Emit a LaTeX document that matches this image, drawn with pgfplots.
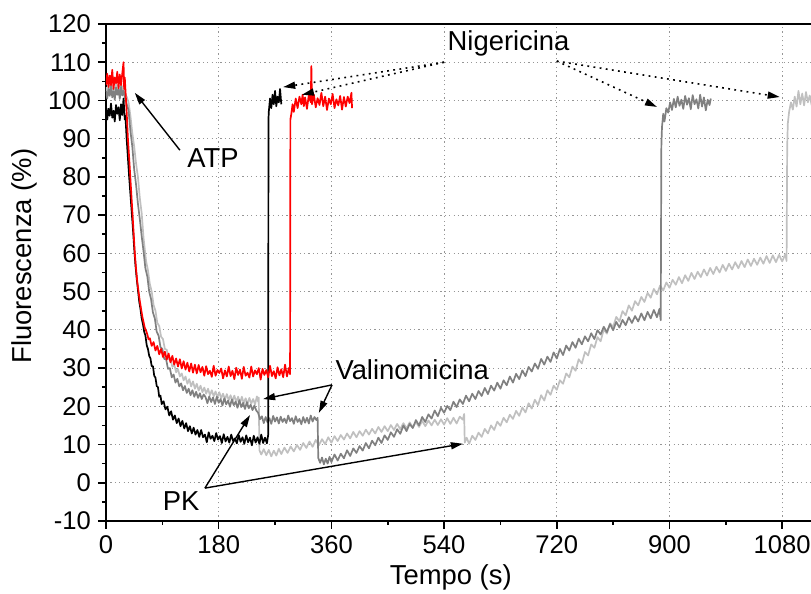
\documentclass[border=0pt]{standalone}
\usepackage{fontspec}
\setmainfont{Liberation Sans}
\usepackage{pgfplots}
\usepackage{pgfplotstable}
\pgfplotsset{compat=1.18}
\usetikzlibrary{arrows.meta}
\definecolor{dgray}{RGB}{128,128,128}
\definecolor{lgray}{RGB}{192,192,192}
\definecolor{gridc}{RGB}{150,150,150}

\pgfplotstableread[row sep=\\]{x y\\
0 98.5\\ 2 95\\ 4 97.8\\ 6 96\\ 8 99.2\\ 10 95.5\\ 12 97.3\\ 14 94.5\\ 16 98.8\\ 18 96.5\\ 20 98.2\\ 22 94.8\\ 24 99\\ 26 96.2\\ 28 100.5\\ 30 95\\
31 96\\ 33 90\\ 35 85\\ 37 80\\ 39 75.5\\ 41 71\\ 43 66.5\\ 45 61.5\\ 47 57\\ 49 53.5\\ 51 50.5\\ 53 47.5\\ 55 45.5\\ 57 43\\ 59 41.5\\ 61 39.5\\ 63 38.5\\ 65 36\\ 67 35\\ 69 33.2\\ 71 32.5\\ 73 30.5\\ 75 30.5\\ 77 28\\ 79 27.5\\ 81 25.3\\ 83 25\\ 85 22.5\\ 87 22.8\\ 89 20.6\\ 92 21.3\\ 95 19.2\\ 98 19.9\\ 101 17.6\\ 104 18.7\\ 107 16.5\\ 110 17.6\\ 113 15.6\\ 116 16.8\\ 119 14.8\\ 122 16.2\\ 125 14.2\\ 128 15.6\\ 131 13.5\\ 134 14.8\\ 137 12.9\\ 140 14.4\\ 143 12.6\\ 146 13.8\\ 149 12\\ 152 13.8\\ 155 11.9\\
158 12.6\\ 161 10.6\\ 164 13.2\\ 167 11.5\\ 170 12.3\\ 173 10.9\\ 176 13\\ 179 11.3\\ 182 12.2\\ 185 10.4\\ 188 12.7\\ 191 10.8\\ 194 12\\ 197 10.5\\ 200 12.6\\ 203 10.9\\ 206 11.6\\ 209 10.3\\ 212 12.5\\ 215 10.7\\ 218 11.9\\ 221 10.2\\ 224 12.4\\ 227 10.6\\ 230 11.8\\ 233 9.8\\ 236 12.3\\ 239 10.5\\ 242 11.9\\ 245 10.2\\ 248 12.6\\ 251 10.4\\ 254 11.8\\ 257 10.3\\ 259 12.5\\
259.5 95\\ 260 97\\ 262 100.5\\ 264 98\\ 266 101.5\\ 268 99\\ 270 102.5\\ 272 98.5\\ 274 101\\ 276 99.5\\ 278 103\\ 280 99\\
}\blackdata

\pgfplotstableread[row sep=\\]{x y\\
0 104\\ 2 107\\ 4 103.5\\ 6 106.5\\ 8 104\\ 10 108\\ 12 103\\ 14 106\\ 16 104.5\\ 18 107.5\\ 20 103.2\\ 22 106.8\\ 24 104\\ 26 107\\ 28 110\\ 29 103\\ 30 106\\
31 103\\ 32 100\\ 33 97\\ 35 90\\ 37 85\\ 39 79.5\\ 41 74\\ 43 68.5\\ 45 63\\ 46 60\\ 48 56\\ 50 52.5\\ 52 50\\ 54 47.5\\ 56 45.5\\ 58 43.5\\ 60 42\\ 62 40.5\\ 64 39.8\\ 66 38.8\\ 68 37.5\\ 70 37.8\\ 73 35.8\\ 76 36.8\\ 79 34.6\\ 82 35.8\\ 85 33.6\\ 88 35\\ 91 32.9\\ 94 34.3\\ 97 32.2\\ 100 33.8\\ 103 31.5\\ 106 33.2\\ 109 30.9\\ 112 32.5\\ 115 30.4\\ 118 32.3\\ 121 29.9\\ 124 31.8\\ 127 29.6\\ 130 31.4\\ 133 29.1\\ 136 31.2\\ 139 28.8\\ 142 30.9\\ 145 28.6\\ 148 30.8\\ 151 28.9\\ 154 30.3\\ 157 28\\
160 30.5\\ 163 28.4\\ 166 29.3\\ 169 27.7\\ 172 30.6\\ 175 28\\ 178 29.5\\ 181 28.7\\ 184 29.9\\ 187 27.3\\ 190 29.4\\ 193 27.8\\ 196 30.4\\ 199 27.9\\ 202 29.3\\ 205 27.1\\ 208 30.1\\ 211 28.2\\ 214 29.6\\ 217 27.2\\ 220 30.3\\ 223 28\\ 226 28.8\\ 229 27.5\\ 232 30.4\\ 235 27.8\\ 238 29.4\\ 241 28.4\\ 244 30\\ 247 27\\ 250 29.8\\ 253 28.2\\ 256 29.5\\ 259 27.6\\ 262 30.6\\ 265 27.9\\ 268 29.2\\ 271 27.3\\ 274 30.2\\ 277 28.1\\ 280 29.7\\ 283 27.6\\ 286 30.9\\ 289 27.8\\ 292 30\\ 294 28.4\\
294.5 95\\ 296 96.5\\ 298 99\\ 300 97\\ 303 100.5\\ 306 98\\ 309 101\\ 312 99\\ 314 101.5\\ 316 98.5\\ 318 100.8\\ 321 97.8\\ 324 101.5\\ 327 99.5\\ 328 109\\ 329 99\\ 332 101.5\\ 335 98.2\\ 338 100.6\\ 341 98.8\\ 344 102\\ 347 98.5\\ 350 101\\ 353 97.5\\ 356 100.5\\ 359 99\\ 362 101.7\\ 365 98\\ 368 100.3\\ 371 98.7\\ 374 101.2\\ 377 97.6\\ 380 100.9\\ 383 98.4\\ 386 101\\ 389 99.3\\ 392 102\\ 393 98\\
}\reddata

\pgfplotstableread[row sep=\\]{x y\\
0 102.5\\ 2 100.5\\ 4 103\\ 6 101.2\\ 8 103.8\\ 10 100.8\\ 12 102.4\\ 14 100.2\\ 16 103.4\\ 18 101.5\\ 20 102.9\\ 22 100.4\\ 24 103.6\\ 26 101.3\\ 28 102.6\\ 30 100.9\\
33 99\\ 36 97.5\\ 39 92\\ 42 88\\ 45 82\\ 48 78\\ 51 73\\ 54 69\\ 57 64.5\\ 60 60.5\\ 63 56\\ 66 54\\ 69 50\\ 72 48\\ 75 44.5\\ 78 43\\ 81 39.5\\ 84 38.5\\ 87 35.5\\ 90 35\\ 93 32.4\\ 96 32.3\\ 99 29.8\\ 102 30\\ 105 27.6\\ 108 28.3\\ 111 26.2\\ 114 27.2\\ 117 25.2\\ 120 26\\ 123 24.2\\ 126 25.3\\ 129 23.5\\ 132 24.6\\ 135 22.9\\ 138 24.2\\ 141 22.5\\ 144 23.8\\ 147 22.2\\ 150 23.4\\ 153 21.9\\ 156 23.1\\
159 22.4\\ 162 20.8\\ 165 22.6\\ 168 21.1\\ 171 22.3\\ 174 20.6\\ 177 22.5\\ 180 20.9\\ 183 21.9\\ 186 20.2\\ 189 22.1\\ 192 20.5\\ 195 21.5\\ 198 19.9\\ 201 21.8\\ 204 20.3\\ 207 21.2\\ 210 19.6\\ 213 21.6\\ 216 19.8\\ 219 20.9\\ 222 19.3\\ 225 21.1\\ 228 19.5\\ 231 20.4\\ 234 19\\ 237 20.2\\ 240 18.9\\ 243 18.3\\ 246 16.6\\ 249 17.4\\ 252 15.6\\ 255 17.2\\ 258 15.8\\ 261 16.9\\ 264 15.4\\ 267 17.5\\ 270 16\\ 273 17.1\\ 276 15.5\\ 279 17.3\\ 282 15.9\\ 285 16.8\\ 288 15.6\\ 291 17.6\\ 294 16.1\\ 297 16.9\\ 300 15.4\\ 303 17.4\\ 306 15.9\\ 309 16.7\\ 312 15.3\\ 315 17.2\\ 318 15.7\\ 321 17\\ 324 15.5\\ 327 17.6\\ 330 16\\ 333 17.2\\ 336 16.4\\ 338 17\\
339 6.5\\ 342 5.2\\ 345 6.6\\ 348 4.8\\ 351 6.3\\ 354 5\\ 357 6.8\\ 360 5.4\\ 365 7.4\\ 370 5.8\\ 375 7.6\\ 380 6.4\\ 385 8.5\\ 390 7\\ 395 9\\ 400 7.8\\ 405 9.6\\ 410 8.4\\ 415 10.4\\ 420 9\\ 425 11\\ 430 9.8\\ 435 11.8\\ 440 10.4\\ 445 12.4\\ 450 11.2\\ 455 13.2\\ 460 12\\ 465 14\\ 470 12.8\\ 475 15\\ 480 13.5\\ 485 15.4\\ 490 14.3\\ 495 16.4\\ 500 15\\ 505 17.2\\ 510 15.9\\ 515 17.9\\ 520 16.8\\ 525 18.9\\ 530 17.4\\ 535 19.6\\ 540 18.3\\ 545 20.1\\ 550 19\\ 555 21.2\\ 560 19.8\\ 565 21.8\\ 570 20.6\\ 575 22.8\\ 580 21.3\\ 585 23.3\\ 590 21.9\\ 595 24\\ 600 22.7\\ 605 24.8\\ 610 23.2\\ 615 25.4\\ 620 24.1\\ 625 26.2\\ 630 24.6\\ 635 26.8\\ 640 25.5\\ 645 27.8\\ 650 26.2\\ 655 28.5\\ 660 27.1\\ 665 29.4\\ 670 27.9\\ 675 30.3\\ 680 29.1\\ 685 31.2\\ 690 29.8\\ 695 32.4\\ 700 30.9\\ 705 33\\ 710 31.6\\ 715 34.1\\ 720 32.5\\ 725 35\\ 730 33.4\\ 735 35.9\\ 740 34.6\\ 745 36.8\\ 750 35.3\\ 755 37.7\\ 760 36.2\\ 765 38.3\\ 770 37\\ 775 39.1\\ 780 37.6\\ 785 39.9\\ 790 38.8\\ 795 40.8\\ 800 39.4\\ 805 41.5\\ 810 39.9\\ 815 42.1\\ 820 40.6\\ 825 42.6\\ 830 41.2\\ 835 43.3\\ 840 41.8\\ 845 43.6\\ 850 42.2\\ 855 44.3\\ 860 42.5\\ 865 44.7\\ 870 43\\ 875 45.2\\ 880 43.3\\ 884 45.5\\ 886 42.5\\
887 88\\ 888 93\\ 890 96.5\\ 892 94.5\\ 895 98\\ 898 96.8\\ 901 99.5\\ 904 97.5\\ 907 100.4\\ 910 98.2\\ 913 101\\ 916 98.6\\ 919 100.2\\ 922 97.8\\ 925 101.2\\ 928 98.9\\ 931 100.6\\ 934 97.7\\ 937 101.4\\ 940 99\\ 943 100.3\\ 946 97.9\\ 949 101.5\\ 952 98.4\\ 955 100.8\\ 958 97.4\\ 961 100.2\\ 964 98.8\\ 966 100.5\\
}\dgraydata

\pgfplotstableread[row sep=\\]{x y\\
0 103.5\\ 2 101.6\\ 4 104.2\\ 6 102\\ 8 104.8\\ 10 101.9\\ 12 103.3\\ 14 101.1\\ 16 104.4\\ 18 102.4\\ 20 103.9\\ 22 101.3\\ 24 104.6\\ 26 102.2\\ 28 103.8\\ 30 101.8\\
33 101\\ 36 99.5\\ 39 96\\ 42 91.5\\ 45 88\\ 48 83.5\\ 51 80\\ 54 74.5\\ 57 70.5\\ 60 64\\ 62 61\\ 64 58\\ 67 55.6\\ 70 52\\ 73 50\\ 76 46.5\\ 79 45\\ 82 41.8\\ 85 41\\ 88 38.2\\ 91 37.6\\ 94 35\\ 97 34.8\\ 100 32.3\\ 103 32.5\\ 106 30.3\\ 109 30.9\\ 112 28.9\\ 115 29.7\\ 118 27.8\\ 121 28.6\\ 124 26.8\\ 127 27.8\\ 130 25.9\\ 133 27.1\\ 136 25.2\\ 139 26.5\\ 142 24.6\\ 145 25.9\\ 148 24.1\\ 151 25.4\\ 154 23.7\\ 157 24.9\\ 160 23.3\\ 163 24.6\\ 166 22.9\\ 169 24.2\\ 172 22.6\\ 175 23.9\\ 178 22.3\\ 181 23.7\\ 184 22.1\\ 187 23.3\\ 190 21.8\\ 193 23.2\\ 196 21.6\\ 199 22.9\\ 202 21.3\\ 205 22.8\\ 208 21.1\\ 211 22.5\\ 214 20.9\\ 217 22.5\\ 220 20.8\\ 223 22.1\\ 226 20.6\\ 229 22.2\\ 232 20.7\\ 235 21.9\\ 238 20.5\\ 241 22.6\\ 243 21.2\\ 244 22.3\\
245 8.5\\ 248 7.4\\ 252 8.8\\ 256 7.2\\ 260 8.6\\ 264 6.9\\ 268 8.4\\ 272 7.1\\ 276 8.9\\ 280 7.5\\ 285 9.2\\ 290 7.8\\ 295 9.5\\ 300 8.2\\ 305 9.9\\ 310 8.6\\ 315 10.4\\ 320 9.1\\ 325 10.8\\ 330 9.4\\ 335 11.2\\ 340 9.8\\ 345 11.4\\ 350 10.1\\ 355 11.9\\ 360 10.5\\ 365 12.2\\ 370 10.9\\ 375 12.5\\ 380 11.3\\ 385 12.9\\ 390 11.6\\ 395 13.3\\ 400 11.9\\ 405 13.5\\ 410 12.3\\ 415 13.9\\ 420 12.6\\ 425 14.1\\ 430 12.9\\ 435 14.6\\ 440 13.3\\ 445 14.8\\ 450 13.5\\ 455 15.1\\ 460 13.8\\ 465 15.4\\ 470 14\\ 475 15.6\\ 480 14.2\\ 485 15.8\\ 490 14.5\\ 495 15.9\\ 500 14.6\\ 505 16.2\\ 510 14.8\\ 515 16.3\\ 520 15\\ 525 16.5\\ 530 15.1\\ 535 16.6\\ 540 15.2\\ 545 16.9\\ 550 15.4\\ 555 17\\ 560 15.5\\ 565 17.3\\ 570 16.5\\ 572 18\\
573 10.5\\ 576 11.8\\ 580 10.2\\ 585 12.3\\ 590 11.2\\ 595 13.1\\ 600 12\\ 605 14.1\\ 610 12.9\\ 615 15\\ 620 13.8\\ 625 16\\ 630 14.9\\ 635 17\\ 640 15.8\\ 645 17.8\\ 650 16.7\\ 655 18.8\\ 660 17.5\\ 665 19.7\\ 670 18.4\\ 675 20.8\\ 680 19.4\\ 685 21.7\\ 690 20.3\\ 695 22.9\\ 700 21.5\\ 705 24.2\\ 710 23\\ 715 25.4\\ 720 24.3\\ 725 26.8\\ 730 25.9\\ 735 28.6\\ 740 27.6\\ 745 30.4\\ 750 29.3\\ 755 32.3\\ 760 31.2\\ 765 34.2\\ 770 33.3\\ 775 36.2\\ 780 35.3\\ 785 38.1\\ 790 37\\ 795 40.1\\ 800 39\\ 805 41.7\\ 810 40.8\\ 815 43.4\\ 820 42.2\\ 825 44.9\\ 830 43.8\\ 835 46.4\\ 840 45\\ 845 47.5\\ 850 46.4\\ 855 48.6\\ 860 47.3\\ 865 49.7\\ 870 48.4\\ 875 50.7\\ 880 49.3\\ 885 51.6\\ 890 50.3\\ 895 52.4\\ 900 51\\ 905 53.1\\ 910 51.8\\ 915 53.8\\ 920 52.2\\ 925 54.3\\ 930 52.8\\ 935 54.9\\ 940 53.3\\ 945 55.2\\ 950 53.8\\ 955 55.8\\ 960 54.2\\ 965 56.2\\ 970 54.6\\ 975 56.5\\ 980 55\\ 985 57\\ 990 55.4\\ 995 57.3\\ 1000 55.8\\ 1005 57.7\\ 1010 56.1\\ 1015 58\\ 1020 56.4\\ 1025 58.4\\ 1030 56.7\\ 1035 58.6\\ 1040 57\\ 1045 58.9\\ 1050 57.3\\ 1055 59.3\\ 1060 57.5\\ 1065 59.5\\ 1070 57.7\\ 1075 59.6\\ 1080 57.9\\ 1085 59.8\\ 1087 58\\
1088 88\\ 1089 94\\ 1091 97\\ 1094 99.5\\ 1097 97.6\\ 1100 101\\ 1103 98.4\\ 1106 102.5\\ 1109 99\\ 1112 101.8\\ 1115 98.7\\ 1118 102.2\\ 1121 99.5\\ 1124 101.3\\ 1127 98.8\\ 1130 101\\
}\lgraydata

\begin{document}
\begin{tikzpicture}
\begin{axis}[
  scale only axis,
  width=352.5pt, height=248.5pt,
  xmin=0, xmax=1126, ymin=-10, ymax=120,
  axis y line*=left,
  xtick={0,180,...,1080},
  ytick={-10,0,...,120},
  minor x tick num=1,
  minor y tick num=1,
  xtick pos=left, ytick pos=left,
  tick align=outside,
  major tick length=4pt, minor tick length=2pt,
  every tick/.style={black, line width=0.8pt},
  axis line style={line width=1pt},
  grid=major,
  major grid style={gridc, line width=0.5pt, dash pattern=on 0.6pt off 1.6pt},
  /pgf/number format/assume math mode=true,
  /pgf/number format/1000 sep={},
  tick label style={font=\fontsize{12.8}{14}\selectfont},
  label style={font=\fontsize{13.7}{16}\selectfont},
  xlabel={Tempo (s)},
  ylabel={Fluorescenza (\%)},
  xlabel style={at={(rel axis cs:0.489,0)}, anchor=center, yshift=-28pt},
  ylabel style={at={(rel axis cs:0,0.533)}, anchor=center, yshift=41pt},
  clip=true,
]
\addplot[lgray, line width=0.85pt, line join=round] table {\lgraydata};
\addplot[dgray, line width=0.85pt, line join=round] table {\dgraydata};
\addplot[black, line width=0.85pt, line join=round] table {\blackdata};
\addplot[red, line width=0.85pt, line join=round] table {\reddata};

\begin{scope}[font=\fontsize{13.7}{16}\selectfont]
\node at (axis cs:171,85) {ATP};
\node at (axis cs:643,115) {Nigericina};
\node at (axis cs:489,29.7) {Valinomicina};
\node at (axis cs:120,-4.8) {PK};
\end{scope}

\draw[line width=0.7pt, -{Triangle[length=6pt,width=3.5pt]}] (axis cs:118,87) -- (axis cs:46,102);
\draw[line width=0.7pt, -{Triangle[length=6pt,width=3.5pt]}] (axis cs:361,25.6) -- (axis cs:251,21.9);
\draw[line width=0.7pt, -{Triangle[length=6pt,width=3.5pt]}] (axis cs:361,25.6) -- (axis cs:340,18.3);
\draw[line width=0.7pt, -{Triangle[length=6pt,width=3.5pt]}] (axis cs:158,-1.4) -- (axis cs:230,17.7);
\draw[line width=0.7pt, -{Triangle[length=6pt,width=3.5pt]}] (axis cs:158,-1.4) -- (axis cs:570,10.2);

\draw[line width=0.8pt, dash pattern=on 0.9pt off 2.2pt, -{Triangle[length=6pt,width=3.5pt]}] (axis cs:540,110) -- (axis cs:283,103.5);
\draw[line width=0.8pt, dash pattern=on 0.9pt off 2.2pt, -{Triangle[length=6pt,width=3.5pt]}] (axis cs:540,110) -- (axis cs:313,101.5);
\draw[line width=0.8pt, dash pattern=on 0.9pt off 2.2pt, -{Triangle[length=6pt,width=3.5pt]}] (axis cs:720,110.3) -- (axis cs:880,98.3);
\draw[line width=0.8pt, dash pattern=on 0.9pt off 2.2pt, -{Triangle[length=6pt,width=3.5pt]}] (axis cs:720,110.3) -- (axis cs:1076,100.9);
\end{axis}
\pgfresetboundingbox
\path ([shift={(-53pt,-36.5pt)}]current axis.south west) rectangle ([shift={(0pt,12pt)}]current axis.north east);
\end{tikzpicture}
\end{document}
